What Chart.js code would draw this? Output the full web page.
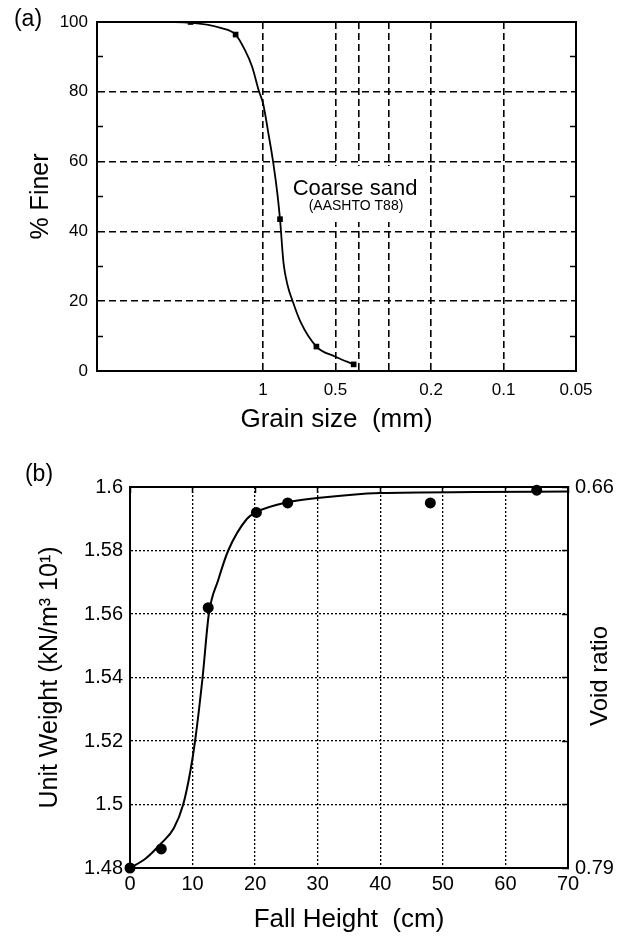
<!DOCTYPE html>
<html><head><meta charset="utf-8">
<script src="https://cdn.jsdelivr.net/npm/chart.js@4.4.1/dist/chart.umd.min.js"></script>
<style>
html,body{margin:0;padding:0;background:#fff;width:629px;height:936px;overflow:hidden}
#wa{position:absolute;left:0;top:0;width:629px;height:440px}
#wb{position:absolute;left:0;top:440px;width:629px;height:496px}
</style></head><body>
<div id="wa"><canvas id="ca" width="629" height="440"></canvas></div>
<div id="wb"><canvas id="cb" width="629" height="496"></canvas></div>
<script>
// ---- Panel (a): grain size distribution ----
const grainSizes = [2.0, 1.3, 0.85, 0.6, 0.42];
const percentFiner = [100, 96.4, 43.5, 7.0, 1.9];
const curveSizes = [2.5, 2.0, 1.5, 1.3, 1.19, 1.11, 1.04, 1.0, 0.95, 0.906, 0.872, 0.85, 0.822, 0.79, 0.753, 0.7, 0.6, 0.5, 0.42];
const curveFiner = [100, 99.8, 98.3, 96.4, 92, 87.2, 80.2, 76.7, 68.1, 59.5, 50.9, 43.5, 31, 24.5, 20, 14.2, 7.0, 4.1, 1.9];
const sizeGrid = [1, 0.5, 0.4, 0.3, 0.2, 0.1, 0.05];
const sizeTickLabels = [1, 0.5, 0.2, 0.1, 0.05];
const finerTicks = [0, 20, 40, 60, 80, 100];
const finerMinorTicks = [10, 30, 50, 70, 90];

// ---- Panel (b): unit weight vs fall height ----
const fallHeight = [0, 5, 12.5, 20.2, 25.2, 48, 65];
const unitWeight = [1.480, 1.486, 1.562, 1.592, 1.595, 1.595, 1.599];
const curveHeight = [0, 2.5, 5, 7, 8.5, 9.6, 10.4, 11.6, 12.6, 14.1, 15.7, 18.7, 20.2, 25, 29.9, 40, 55, 70];
const curveWeight = [1.480, 1.483, 1.4878, 1.4925, 1.500, 1.510, 1.520, 1.540, 1.560, 1.5707, 1.580, 1.590, 1.5921, 1.5951, 1.5965, 1.5981, 1.5984, 1.5986];
const heightTicks = [0, 10, 20, 30, 40, 50, 60, 70];
const weightTicks = [1.48, 1.5, 1.52, 1.54, 1.56, 1.58, 1.6];
const voidRatioTicks = [0.66, 0.79];

const FONT = "'Liberation Sans', Arial, Helvetica, sans-serif";
Chart.defaults.font.family = FONT;
Chart.defaults.color = '#000';

const frameAxis = (pos, type, extra, tickVals) => Object.assign({
  type: type, position: pos, display: true,
  afterBuildTicks: s => { if (tickVals) s.ticks = tickVals.map(v => ({value: v})); },
  ticks: {display: false, autoSkip: false},
  grid: {drawOnChartArea: false, drawTicks: !!tickVals, tickLength: -6, tickWidth: 1.5, tickColor: '#000'},
  border: {display: true, color: '#000', width: 2},
  afterFit: s => { if (pos === 'top' || pos === 'bottom') s.height = 0; else s.width = 0; }
}, extra || {});

const annotA = {
  id: 'annotA',
  beforeDatasetsDraw(chart) {
    const ctx = chart.ctx;
    ctx.save();
    ctx.fillStyle = '#fff';
    ctx.fillRect(289, 166, 132, 56);
    ctx.restore();
  },
  afterDraw(chart) {
    const ctx = chart.ctx;
    ctx.save();
    ctx.fillStyle = '#000';
    ctx.textAlign = 'center';
    ctx.textBaseline = 'middle';
    ctx.font = '23px ' + FONT;
    ctx.fillText('(a)', 28, 20);
    ctx.font = '22px ' + FONT;
    ctx.fillText('Coarse sand', 355, 189);
    ctx.font = '14px ' + FONT;
    ctx.fillText('(AASHTO T88)', 356, 206);
    ctx.restore();
  }
};

new Chart(document.getElementById('ca'), {
  type: 'scatter',
  data: {
    datasets: [
      {
        data: curveSizes.map((v, i) => ({x: v, y: curveFiner[i]})),
        showLine: true, pointRadius: 0, borderColor: '#000', borderWidth: 1.8,
        cubicInterpolationMode: 'monotone', order: 2
      },
      {
        data: grainSizes.map((v, i) => ({x: v, y: percentFiner[i]})),
        showLine: false, pointStyle: 'rect', pointRadius: 4,
        backgroundColor: '#000', borderColor: '#000', borderWidth: 0, order: 1
      }
    ]
  },
  options: {
    responsive: false, animation: false, devicePixelRatio: 1,
    layout: {padding: {left: 0, right: 53, top: 22, bottom: 0}},
    plugins: {legend: {display: false}, tooltip: {enabled: false}},
    scales: {
      x: {
        type: 'logarithmic', reverse: true, min: 0.05, max: 4.9, position: 'bottom',
        afterBuildTicks: s => { s.ticks = sizeGrid.map(v => ({value: v})); },
        ticks: {
          autoSkip: false, maxRotation: 0, minRotation: 0, padding: 9, font: {size: 17},
          callback: v => sizeTickLabels.some(t => Math.abs(t - v) < 1e-9) ? String(v) : ''
        },
        grid: {color: '#000', lineWidth: 1.6, drawTicks: false},
        border: {display: true, color: '#000', width: 2, dash: [7, 4]},
        title: {display: true, text: 'Grain size  (mm)', font: {size: 26}, padding: {top: 0, bottom: 5}},
        afterFit: s => { s.height = 69; }
      },
      y: {
        type: 'linear', min: 0, max: 100, position: 'left',
        afterBuildTicks: s => { s.ticks = finerTicks.map(v => ({value: v})); },
        ticks: {padding: 9, font: {size: 17}},
        grid: {color: '#000', lineWidth: 1.6, drawTicks: false},
        border: {display: true, color: '#000', width: 2, dash: [7, 4]},
        title: {display: true, text: '% Finer', font: {size: 25}, padding: {top: 26, bottom: 0}},
        afterFit: s => { s.width = 97; }
      },
      yMinor: frameAxis('left', 'linear', {min: 0, max: 100, weight: -1, border: {display: false}}, finerMinorTicks),
      x2: frameAxis('top', 'linear', {min: 0, max: 1}),
      y2: frameAxis('right', 'linear', {min: 0, max: 100}, finerMinorTicks)
    }
  },
  plugins: [annotA]
});

const annotB = {
  id: 'annotB',
  afterDraw(chart) {
    const ctx = chart.ctx;
    ctx.save();
    ctx.fillStyle = '#000';
    ctx.textAlign = 'center';
    ctx.textBaseline = 'middle';
    ctx.font = '23px ' + FONT;
    ctx.fillText('(b)', 39, 35);
    ctx.translate(600, 236);
    ctx.rotate(-Math.PI / 2);
    ctx.font = '24px ' + FONT;
    ctx.fillText('Void ratio', 0, 0);
    ctx.restore();
  }
};

// void-ratio axis positions that line up with the unit-weight grid
const voidMin = voidRatioTicks[0], voidMax = voidRatioTicks[1];
const wMin = weightTicks[0], wMax = weightTicks[weightTicks.length - 1];
const voidGridTicks = weightTicks.map(w => voidMax - (w - wMin) / (wMax - wMin) * (voidMax - voidMin));

new Chart(document.getElementById('cb'), {
  type: 'scatter',
  data: {
    datasets: [
      {
        data: curveHeight.map((v, i) => ({x: v, y: curveWeight[i]})),
        showLine: true, pointRadius: 0, borderColor: '#000', borderWidth: 2,
        cubicInterpolationMode: 'monotone', order: 2
      },
      {
        data: fallHeight.map((v, i) => ({x: v, y: unitWeight[i]})),
        showLine: false, pointStyle: 'circle', pointRadius: 5.5,
        backgroundColor: '#000', borderColor: '#000', borderWidth: 0, order: 1, clip: false
      }
    ]
  },
  options: {
    responsive: false, animation: false, devicePixelRatio: 1,
    layout: {padding: {left: 0, right: 0, top: 47, bottom: 0}},
    plugins: {legend: {display: false}, tooltip: {enabled: false}},
    scales: {
      x: {
        type: 'linear', min: 0, max: 70, position: 'bottom',
        afterBuildTicks: s => { s.ticks = heightTicks.map(v => ({value: v})); },
        ticks: {autoSkip: false, maxRotation: 0, minRotation: 0, padding: 4, font: {size: 20}},
        grid: {color: '#000', lineWidth: 1.3, drawTicks: false},
        border: {display: true, color: '#000', width: 2, dash: [2, 2]},
        title: {display: true, text: 'Fall Height  (cm)', font: {size: 26}, padding: {top: 0, bottom: 1}},
        afterFit: s => { s.height = 68; }
      },
      y: {
        type: 'linear', min: wMin, max: wMax, position: 'left',
        afterBuildTicks: s => { s.ticks = weightTicks.map(v => ({value: v})); },
        ticks: {padding: 7, font: {size: 20}, callback: v => String(+Number(v).toFixed(2))},
        grid: {color: '#000', lineWidth: 1.3, drawTicks: false},
        border: {display: true, color: '#000', width: 2, dash: [2, 2]},
        title: {display: true, text: 'Unit Weight (kN/m\u00B3 10\u00B9)', font: {size: 25}, padding: {top: 35, bottom: 0}},
        afterFit: s => { s.width = 130; }
      },
      x2: frameAxis('top', 'linear', {min: 0, max: 70}, heightTicks),
      y2: {
        type: 'linear', position: 'right', min: voidMin, max: voidMax, reverse: true,
        afterBuildTicks: s => { s.ticks = voidGridTicks.map(v => ({value: v})); },
        ticks: {padding: 13, font: {size: 20}, autoSkip: false,
          callback: v => voidRatioTicks.some(t => Math.abs(t - v) < 1e-6) ? Number(v).toFixed(2) : ''},
        grid: {drawOnChartArea: false, drawTicks: true, tickLength: -6, tickWidth: 1.5, tickColor: '#000'},
        border: {display: true, color: '#000', width: 2},
        afterFit: s => { s.width = 61; }
      }
    }
  },
  plugins: [annotB]
});
</script>
</body></html>
